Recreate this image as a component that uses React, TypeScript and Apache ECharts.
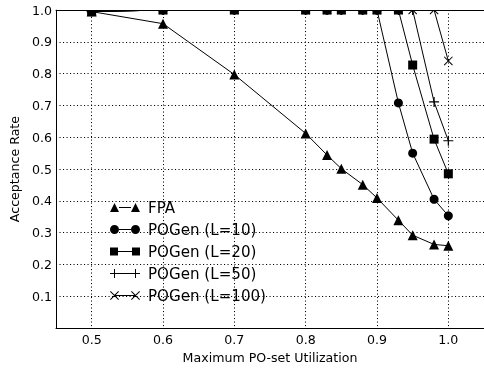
import React, { useEffect, useRef } from 'react';
import * as echarts from 'echarts';

const utilization = [0.5, 0.6, 0.7, 0.8, 0.83, 0.85, 0.88, 0.9, 0.93, 0.95, 0.98, 1.0];
const fpa = [0.995, 0.957, 0.797, 0.612, 0.544, 0.501, 0.451, 0.409, 0.339, 0.292, 0.263, 0.259];
const pogen10 = [0.995, 1, 1, 1, 1, 1, 1, 1, 0.708, 0.55, 0.405, 0.353];
const pogen20 = [0.995, 1, 1, 1, 1, 1, 1, 1, 1, 0.827, 0.594, 0.485];
const pogen50 = [0.995, 1, 1, 1, 1, 1, 1, 1, 1, 1, 0.711, 0.589];
const pogen100 = [0.995, 1, 1, 1, 1, 1, 1, 1, 1, 1, 1, 0.84];
const xTicks = [0.5, 0.6, 0.7, 0.8, 0.9, 1.0];
const seriesNames = ['FPA', 'POGen (L=10)', 'POGen (L=20)', 'POGen (L=50)', 'POGen (L=100)'];
const seriesValues = [fpa, pogen10, pogen20, pogen50, pogen100];

const PLUS = 'path://M0,4.4H10V5.6H0Z M4.4,0H5.6V10H4.4Z';
const CROSS = 'path://M0,0.8L0.8,0L10,9.2L9.2,10Z M9.2,0L10,0.8L0.8,10L0,9.2Z';
const markerSymbols = ['triangle', 'circle', 'rect', PLUS, CROSS];
const markerSizes = [10, 9, 9, 10, 9];
const legendIcons = [
  'path://M0,9L4.5,0L9,9Z M9,4L21,4L21,5L9,5Z M21,9L25.5,0L30,9Z',
  'path://M0,4.5A4.5,4.5,0,1,1,9,4.5A4.5,4.5,0,1,1,0,4.5Z M9,4L21,4L21,5L9,5Z M21,4.5A4.5,4.5,0,1,1,30,4.5A4.5,4.5,0,1,1,21,4.5Z',
  'path://M0,0.5H8V8.5H0Z M8,4H22V5H8Z M22,0.5H30V8.5H22Z',
  'path://M0,4H30V5H0Z M4,0H5V9H4Z M25,0H26V9H25Z',
  'path://M0,0.7L0.7,0L9,8.3L8.3,9Z M8.3,0L9,0.7L0.7,9L0,8.3Z M4.5,4H25.5V5H4.5Z M21,0.7L21.7,0L30,8.3L29.3,9Z M29.3,0L30,0.7L21.7,9L21,8.3Z',
];

export default function App() {
  const ref = useRef<HTMLDivElement>(null);
  useEffect(() => {
    const chart = echarts.init(ref.current!, null, { renderer: 'svg' });
    const font = 'DejaVu Sans';
    const fs = 12.6;
    const lineSeries = seriesValues.map((vals, i) => ({
      name: seriesNames[i] + ' line',
      type: 'line',
      data: utilization.map((x, j) => [x, vals[j]]),
      symbol: 'none',
      clip: true,
      z: 2,
      lineStyle: { color: '#000', width: 1 },
      silent: true,
    }));
    const markerSeries = seriesValues.map((vals, i) => ({
      name: seriesNames[i],
      type: 'scatter',
      data: utilization.map((x, j) => [x, vals[j]]),
      symbol: markerSymbols[i],
      symbolSize: markerSizes[i],
      z: 3 + i,
      itemStyle: { color: '#000', opacity: 1 },
      silent: true,
    }));
    const gridLine = { show: true, lineStyle: { color: '#000', type: [1.1, 2.4], width: 1 } };
    chart.setOption({
      animation: false,
      textStyle: { fontFamily: font, color: '#000' },
      grid: { left: 56, right: -2, top: 10, bottom: 36 },
      legend: {
        orient: 'vertical',
        left: 105,
        top: 195,
        itemWidth: 30,
        itemHeight: 9,
        itemGap: 7,
        data: seriesNames.map((n, i) => ({ name: n, icon: legendIcons[i] })),
        textStyle: { fontSize: 15.1, color: '#000', fontFamily: font, padding: [0, 0, 0, 3] },
        itemStyle: { borderWidth: 0 },
        selectedMode: false,
      },
      xAxis: [
        {
          type: 'value',
          min: 0.45,
          max: 1.05,
          name: 'Maximum PO-set Utilization',
          nameLocation: 'middle',
          nameGap: 17,
          nameTextStyle: { fontSize: fs, color: '#000', fontFamily: font },
          axisLine: { show: true, onZero: false, lineStyle: { color: '#000', width: 1 } },
          axisTick: { show: false, customValues: xTicks },
          axisLabel: {
            customValues: xTicks,
            fontSize: fs,
            color: '#000',
            margin: 5,
            formatter: (v: number) => v.toFixed(1),
          },
          splitLine: gridLine,
        },
        {
          type: 'value',
          position: 'top',
          min: 0.45,
          max: 1.05,
          z: 20,
          axisLine: { show: true, onZero: false, lineStyle: { color: '#000', width: 1 } },
          axisTick: { show: false },
          axisLabel: { show: false },
          splitLine: { show: false },
        },
      ],
      yAxis: {
        type: 'value',
        min: 0,
        max: 1.0,
        interval: 0.1,
        name: 'Acceptance Rate',
        nameLocation: 'middle',
        nameGap: 25,
        nameTextStyle: { fontSize: fs, color: '#000', fontFamily: font },
        axisLine: { show: true, lineStyle: { color: '#000', width: 1 } },
        axisTick: { show: false },
        axisLabel: {
          fontSize: fs,
          color: '#000',
          margin: 4,
          formatter: (v: number) => (Math.abs(v) < 1e-9 ? '' : v.toFixed(1)),
        },
        splitLine: gridLine,
      },
      graphic: [
        {
          type: 'rect',
          z: 10,
          silent: true,
          shape: { x: 56.5, y: 0, width: 440, height: 10 },
          style: { fill: '#fff' },
        },
      ],
      series: [...lineSeries, ...markerSeries],
    });
    return () => chart.dispose();
  }, []);
  return <div ref={ref} style={{ position: 'fixed', left: 0, top: 0, width: 484, height: 369 }} />;
}
